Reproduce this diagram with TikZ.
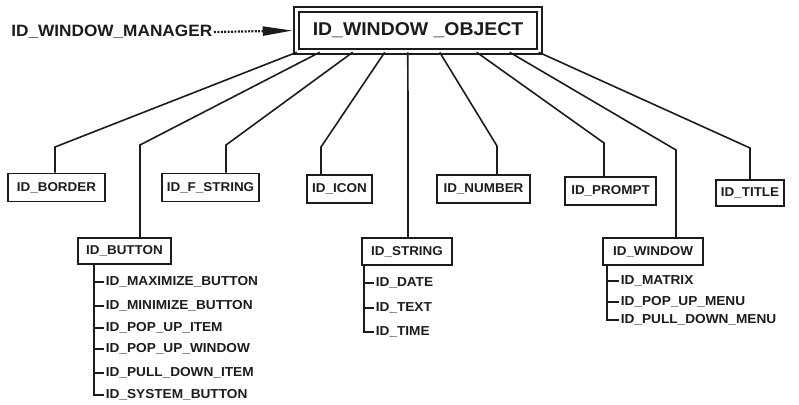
\documentclass[tikz,border=0pt]{standalone}
\usepackage{fontspec}
\usepackage{tikz}
\usetikzlibrary{arrows.meta,positioning}
\newfontfamily\diafont[FakeStretch=1.05]{Liberation Sans}
\definecolor{ink}{HTML}{1C1C1C}

\begin{document}
\begin{tikzpicture}[x=1pt,y=-1pt,line width=1.6pt,draw=ink,
		idbox/.style={draw=ink,rectangle,inner sep=1pt,minimum height=28pt,font=\diafont\bfseries\fontsize{12.8}{12.8}\selectfont,text=ink},
		rootbox/.style={draw=ink,double=white,double distance=3pt,line width=1.6pt,rectangle,minimum width=243pt,minimum height=42pt,font=\diafont\bfseries\fontsize{18.5}{18.5}\selectfont,text=ink},
		item/.style={anchor=west,inner sep=1pt,font=\diafont\bfseries\fontsize{13}{13}\selectfont,text=ink}]
			\useasboundingbox (0,0) rectangle (799,404);
			% top of the tree
			\node[rootbox] (root) at (418,30.5) {ID\_WINDOW \_OBJECT};
			\node[anchor=east,inner sep=1pt,font=\diafont\bfseries\fontsize{16.4}{16.4}\selectfont,text=ink] (manager) at (214,32) {ID\_WINDOW\_MANAGER};
			\draw[line width=2.2pt,dash pattern=on 2pt off 1.4pt,-{Triangle[length=30pt,width=9pt]},shorten >=3pt] (manager.east) -- (root.west);
			% second row
			\node[idbox,minimum width=97pt] (border) at (56.5,187.5) {ID\_BORDER};
			\node[idbox,minimum width=97pt] (fstring) at (210.5,187.5) {ID\_F\_STRING};
			\node[idbox,minimum width=65pt] (icon) at (339.5,189) {ID\_ICON};
			\node[idbox,minimum width=93pt] (number) at (483.5,189) {ID\_NUMBER};
			\node[idbox,minimum width=91pt] (prompt) at (610.5,191) {ID\_PROMPT};
			\node[idbox,minimum width=68pt,minimum height=26pt] (title) at (750,193) {ID\_TITLE};
			\node[idbox,minimum width=93pt,minimum height=26pt] (button) at (124.5,251) {ID\_BUTTON};
			\node[idbox,minimum width=90pt,minimum height=27pt] (string) at (407,251.5) {ID\_STRING};
			\node[idbox,minimum width=100pt,minimum height=27pt] (window) at (653,251.5) {ID\_WINDOW};
			% links from the root
			\foreach \s/\kx/\ky/\n in {1/55/147/border,24/140/145/button,57/226/145/fstring,89/321/147/icon,112/408/100/string,144/497/146/number,181/604/143/prompt,214/676/150/window,243/750/148/title}
				\draw ([xshift=\s pt]root.south west) -- (\kx,\ky) -- (\kx,\ky |- \n.north);
			% leaves
			\coordinate (btrunk) at ([xshift=17pt]button.south west);
			\foreach \lab/\y [count=\i] in {ID\_MAXIMIZE\_BUTTON/282,ID\_MINIMIZE\_BUTTON/306,ID\_POP\_UP\_ITEM/328,ID\_POP\_UP\_WINDOW/349,ID\_PULL\_DOWN\_ITEM/373,ID\_SYSTEM\_BUTTON/395}{
				\node[item] (b\i) at (104,\y) {\lab};
				\draw (btrunk) |- (b\i.west);
			}
			\coordinate (strunk) at ([xshift=3pt]string.south west);
			\foreach \lab/\y [count=\i] in {ID\_DATE/283,ID\_TEXT/308,ID\_TIME/332}{
				\node[item] (s\i) at (374,\y) {\lab};
				\draw (strunk) |- (s\i.west);
			}
			\coordinate (wtrunk) at ([xshift=5pt]window.south west);
			\foreach \lab/\y [count=\i] in {ID\_MATRIX/281,ID\_POP\_UP\_MENU/302,ID\_PULL\_DOWN\_MENU/320}{
				\node[item] (w\i) at (619,\y) {\lab};
				\draw (wtrunk) |- (w\i.west);
			}
		\end{tikzpicture}
\end{document}
